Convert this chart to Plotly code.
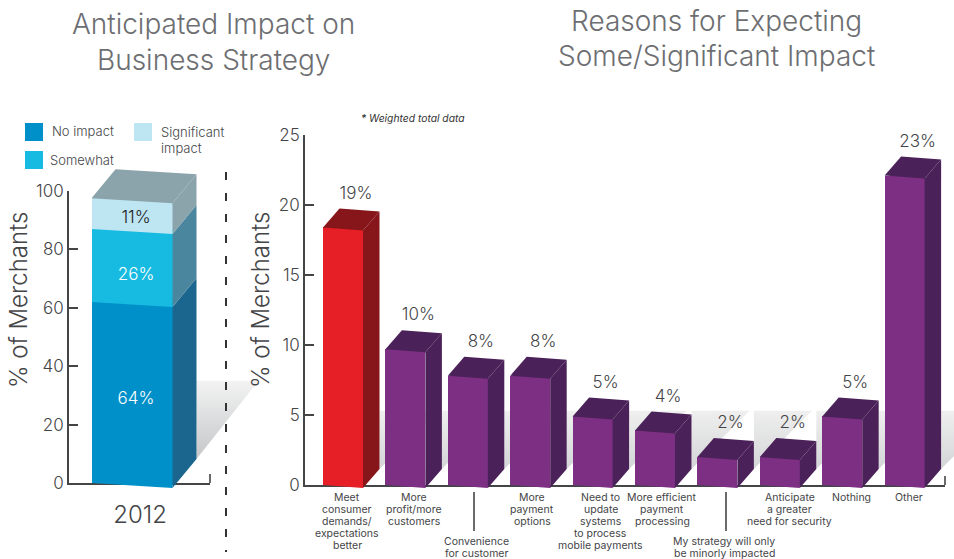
import plotly.graph_objects as go

W, H = 954, 559
FONT = "Inter"
INK = "#444547"
TITLE = "#6d6e71"


def px(x):
    return x / W


def py(y):
    return 1 - y / H


# ---- data: left chart (heights as drawn, labels as printed)
stack_year = "2012"
stack_names = ["No impact", "Somewhat", "Significant impact"]
stack_values = [62.0, 25.0, 10.5]
stack_labels = ["64%", "26%", "11%"]
stack_label_y = [28.5, 71.0, 90.5]
stack_front = ["#0090c9", "#17bbe1", "#bee5f2"]
stack_side = ["#1a668f", "#4a869e", "#8ba3ab"]
stack_top = "#8ba3ab"
left_ticks = [0, 20, 40, 60, 80, 100]

# ---- data: right chart
reasons = [
    "Meet<br>consumer<br>demands/<br>expectations<br>better",
    "More<br>profit/more<br>customers",
    "Convenience<br>for customer",
    "More<br>payment<br>options",
    "Need to<br>update<br>systems<br>to process<br>mobile payments",
    "More efficient<br>payment<br>processing",
    "My strategy will only<br>be minorly impacted",
    "Anticipate<br>a greater<br>need for security",
    "Nothing",
    "Other",
]
reason_values = [18.4, 9.7, 7.8, 7.8, 4.9, 3.9, 2.0, 2.0, 4.9, 22.1]
reason_labels = ["19%", "10%", "8%", "8%", "5%", "4%", "2%", "2%", "5%", "23%"]
reason_label_shift = [4, 9, 9, 2, 8, 7, 7, 10, 9, 4]
reason_label_row = [497.5, 497.5, 541, 497.5, 497.5, 497.5, 541, 497.5, 497.5, 497.5]
right_ticks = [0, 5, 10, 15, 20, 25]
bar_front = ["#e61f26"] + ["#7c2f83"] * 9
bar_dark = ["#86161a"] + ["#4a2158"] * 9

# ---- geometry of the drawing
L_PLOT = (69, 210, 483, 191)       # left, right, y of 0, y of 100
R_PLOT = (305, 945, 485, 135)      # left, right, y of 0, y of 25
L_UNIT_X, L_UNIT_Y = 81.0, (L_PLOT[2] - L_PLOT[3]) / 100
R_UNIT_X, R_UNIT_Y = 62.4, (R_PLOT[2] - R_PLOT[3]) / 25
L_CENTER, R_CENTER = 132.0, 343.0

L_W = 1.0
L_DX, L_DY, L_SLANT = 24 / L_UNIT_X, 29 / L_UNIT_Y, 5 / L_UNIT_Y
R_W = 40 / R_UNIT_X
R_DX, R_DY, R_SLANT = 16.5 / R_UNIT_X, 19 / R_UNIT_Y, 3 / R_UNIT_Y

# subplots: x/y and x2/y2 carry the visible axes, the others span the whole
# canvas at the same scale so the 3D faces can run past the axis rectangles
L_MARK = ("x3", "y3")
R_SHADE = ("x4", "y4")
R_MARK = ("x5", "y5")


def poly(xs, ys, color, axes, **kw):
    return go.Scatter(x=xs, y=ys, mode="lines", fill="toself", fillcolor=color,
                      line=dict(width=0), hoverinfo="skip", showlegend=False,
                      xaxis=axes[0], yaxis=axes[1], **kw)


def shadow(xs, ys, axes, low, high):
    return go.Scatter(x=xs, y=ys, mode="lines", fill="toself",
                      fillgradient=dict(type="vertical",
                                        colorscale=[[0, low], [1, high]]),
                      line=dict(width=0), hoverinfo="skip", showlegend=False,
                      xaxis=axes[0], yaxis=axes[1])


fig = go.Figure()

# ---- empty traces that keep the visible axes in place
fig.add_trace(go.Scatter(x=[None], y=[None], xaxis="x", yaxis="y", showlegend=False))
fig.add_trace(go.Scatter(x=[None], y=[None], xaxis="x2", yaxis="y2", showlegend=False))

# ---- left chart
top_y = sum(stack_values)
bx = L_W / 2 + L_DX
fig.add_trace(shadow([bx, bx, bx + 62 / L_UNIT_X, bx],
                     [L_DY - L_SLANT, 35.0, 35.0, L_DY - L_SLANT],
                     L_MARK, "#c4c6c8", "#f3f3f3"))
for name, value, color in zip(stack_names, stack_values, stack_front):
    fig.add_trace(go.Bar(x=[0], y=[value], width=L_W, name=name,
                         marker=dict(color=color, line=dict(width=0)),
                         hoverinfo="skip", showlegend=False,
                         xaxis=L_MARK[0], yaxis=L_MARK[1]))
base = 0.0
l, r = -L_W / 2, L_W / 2
for i, value in enumerate(stack_values):
    y0, y1 = base, base + value
    fig.add_trace(poly([r, r + L_DX, r + L_DX, r, r],
                       [y0 - L_SLANT, y0 - L_SLANT + L_DY, y1 - L_SLANT + L_DY,
                        y1 - L_SLANT, y0 - L_SLANT],
                       stack_side[i], L_MARK))
    fig.add_trace(poly([l, r, r, l], [y0, y0, y0 - L_SLANT, y0], stack_front[i], L_MARK))
    base = y1
fig.add_trace(poly([l, r, r + L_DX, l + L_DX, l],
                   [top_y, top_y - L_SLANT, top_y - L_SLANT + L_DY, top_y + L_DY, top_y],
                   stack_top, L_MARK))
fig.add_trace(go.Scatter(x=[0.05] * 3, y=stack_label_y, mode="text", text=stack_labels,
                         textfont=dict(family=FONT, size=17, weight=300,
                                       color=["#ffffff", "#ffffff", "#222222"]),
                         hoverinfo="skip", showlegend=False,
                         xaxis=L_MARK[0], yaxis=L_MARK[1]))

# ---- right chart
shadow_top = 5.3
for i in range(len(reason_values)):
    sx = i + R_W / 2 + R_DX
    sb = R_DY - R_SLANT
    fig.add_trace(shadow([sx, sx, sx + 58 / R_UNIT_X, sx], [sb, shadow_top, shadow_top, sb],
                         R_SHADE, "#d4d5d7", "#efefef"))
fig.add_trace(go.Bar(x=list(range(len(reason_values))), y=reason_values, width=R_W,
                     marker=dict(color=bar_front, line=dict(width=0)),
                     hoverinfo="skip", showlegend=False,
                     xaxis=R_MARK[0], yaxis=R_MARK[1]))
for i, value in enumerate(reason_values):
    l, r = i - R_W / 2, i + R_W / 2
    fig.add_trace(poly([r, r + R_DX, r + R_DX, r, r],
                       [-R_SLANT, R_DY - R_SLANT, value - R_SLANT + R_DY, value - R_SLANT, -R_SLANT],
                       bar_dark[i], R_MARK))
    fig.add_trace(poly([l, r, r + R_DX, l + R_DX, l],
                       [value, value - R_SLANT, value - R_SLANT + R_DY, value + R_DY, value],
                       bar_dark[i], R_MARK))
    fig.add_trace(poly([l, r, r, l], [0, 0, -R_SLANT, 0], bar_front[i], R_MARK))
fig.add_trace(go.Scatter(x=[i + 13 / R_UNIT_X for i in range(len(reason_values))],
                         y=[v + 33 / R_UNIT_Y for v in reason_values],
                         mode="text", text=reason_labels,
                         textfont=dict(family=FONT, size=17, weight=300, color=INK),
                         hoverinfo="skip", showlegend=False,
                         xaxis=R_MARK[0], yaxis=R_MARK[1]))

# ---- text
ann = []


def text(x, y, s, size, color=INK, anchor="center", angle=0, italic=False, weight=300):
    if italic:
        s = "<i>" + s + "</i>"
    ann.append(dict(x=px(x), y=py(y), xref="paper", yref="paper", text=s, showarrow=False,
                    xanchor=anchor, yanchor="middle", textangle=angle, align=anchor,
                    font=dict(family=FONT, size=size, color=color, weight=weight)))


text(213, 24, "Anticipated Impact on", 28, TITLE)
text(213, 60, "Business Strategy", 28, TITLE)
text(716, 21, "Reasons for Expecting", 28, TITLE)
text(716, 56, "Some/Significant Impact", 28, TITLE)
text(359, 118, "* Weighted total data", 10.3, "#333333", "left", italic=True, weight=400)
text(18, 300, "% of Merchants", 24, INK, angle=-90)
text(260, 300, "% of Merchants", 24, INK, angle=-90)
text(50, 131, "No impact", 13, INK, "left")
text(48, 160, "Somewhat", 13, INK, "left")
text(159, 132, "Significant", 13, INK, "left")
text(159, 148, "impact", 13, INK, "left")

for i, (label, shift, row) in enumerate(zip(reasons, reason_label_shift, reason_label_row)):
    for j, line in enumerate(label.split("<br>")):
        ann.append(dict(x=i, xref="x5", xshift=shift, y=py(row + j * 12), yref="paper",
                        text=line, showarrow=False, xanchor="center", yanchor="middle",
                        font=dict(family=FONT, size=10.5, color=INK)))

# ---- shapes: legend swatches, separators, axis ends
shapes = []
for (x0, y0), c in zip([(25, 123), (25, 151), (134, 123)], stack_front):
    shapes.append(dict(type="rect", xref="paper", yref="paper", x0=px(x0), x1=px(x0 + 18),
                       y0=py(y0), y1=py(y0 + 18), fillcolor=c, line=dict(width=0)))
for x0, y0, x1, y1, style in [
    (226, 172, 226, 552, dict(color="#333333", width=2, dash="8px,13px")),
    (474, 492, 474, 531, dict(color=INK, width=1.6)),
    (726, 492, 726, 531, dict(color=INK, width=1.6)),
    (L_PLOT[1], L_PLOT[2], L_PLOT[1], L_PLOT[2] - 9, dict(color=INK, width=1.6)),
    (R_PLOT[1], R_PLOT[2], R_PLOT[1], R_PLOT[2] - 9, dict(color=INK, width=1.6)),
]:
    shapes.append(dict(type="line", xref="paper", yref="paper", x0=px(x0), x1=px(x1),
                       y0=py(y0), y1=py(y1), line=style))

tick = dict(family=FONT, size=17, color=INK, weight=300)
common_y = dict(showgrid=False, zeroline=False, showline=True, linecolor=INK, linewidth=1.6,
                ticks="inside", ticklen=9, tickcolor=INK, tickwidth=1.6, tickfont=tick,
                automargin=False)
common_x = dict(showgrid=False, zeroline=False, showline=True, linecolor=INK, linewidth=1.6,
                automargin=False)
hidden = dict(visible=False, automargin=False, showgrid=False, zeroline=False, domain=[0, 1])
l_xr = [-L_CENTER / L_UNIT_X, (W - L_CENTER) / L_UNIT_X]
l_yr = [(L_PLOT[2] - H) / L_UNIT_Y, L_PLOT[2] / L_UNIT_Y]
r_xr = [-R_CENTER / R_UNIT_X, (W - R_CENTER) / R_UNIT_X]
r_yr = [(R_PLOT[2] - H) / R_UNIT_Y, R_PLOT[2] / R_UNIT_Y]

fig.update_layout(
    width=W, height=H, margin=dict(l=0, r=0, t=0, b=0), autosize=False,
    paper_bgcolor="white", plot_bgcolor="rgba(0,0,0,0)", barmode="stack", showlegend=False,
    annotations=ann, shapes=shapes,
    xaxis=dict(domain=[px(L_PLOT[0]), px(L_PLOT[1])],
               range=[(L_PLOT[0] - L_CENTER) / L_UNIT_X, (L_PLOT[1] - L_CENTER) / L_UNIT_X],
               anchor="y", tickmode="array", tickvals=[0.1], ticktext=[stack_year], ticks="",
               tickfont=dict(family=FONT, size=24, color=INK, weight=300),
               ticklabelstandoff=9, **common_x),
    yaxis=dict(domain=[py(L_PLOT[2]), py(L_PLOT[3])], range=[0, 100], anchor="x",
               tickmode="array", tickvals=left_ticks, **common_y),
    xaxis2=dict(domain=[px(R_PLOT[0]), px(R_PLOT[1])],
                range=[(R_PLOT[0] - R_CENTER) / R_UNIT_X, (R_PLOT[1] - R_CENTER) / R_UNIT_X],
                anchor="y2", showticklabels=False, ticks="", **common_x),
    yaxis2=dict(domain=[py(R_PLOT[2]), py(R_PLOT[3])], range=[0, 25], anchor="x2",
                tickmode="array", tickvals=right_ticks, **common_y),
    xaxis3=dict(range=l_xr, anchor="y3", **hidden),
    yaxis3=dict(range=l_yr, anchor="x3", **hidden),
    xaxis4=dict(range=r_xr, anchor="y4", **hidden),
    yaxis4=dict(range=r_yr, anchor="x4", **hidden),
    xaxis5=dict(range=r_xr, anchor="y5", **hidden),
    yaxis5=dict(range=r_yr, anchor="x5", **hidden),
)

fig.write_html("out.html", config={"displayModeBar": False},
               post_script="document.body.style.margin='0';document.body.style.overflow='hidden';")
